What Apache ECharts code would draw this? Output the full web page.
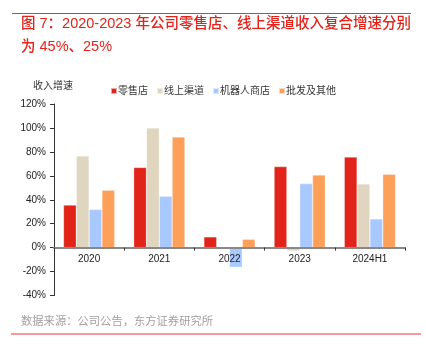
<!DOCTYPE html>
<html><head><meta charset="utf-8">
<script src="https://cdn.jsdelivr.net/npm/echarts@6/dist/echarts.min.js"></script>
<style>html,body{margin:0;padding:0;background:#fff}#c{width:426px;height:346px}</style>
</head><body><div id="c"></div>
<script>
const categories = ['2020', '2021', '2022', '2023', '2024H1'];
const seriesNames = ['零售店', '线上渠道', '机器人商店', '批发及其他'];
const retail = [35.6, 67, 9, 67.7, 75.7];
const online = [76.6, 100, 0, -2.8, 53.2];
const robot = [32, 43, -16.4, 53.5, 24];
const wholesale = [48, 92.5, 7, 60.7, 61.3];
const yTicks = [-40, -20, 0, 20, 40, 60, 80, 100, 120];
const colors = ['#e2231a', '#e0d6bf', '#a8c9ff', '#ffa05a'];
const allData = [retail, online, robot, wholesale];
const font = '"Liberation Sans", "Noto Sans CJK SC", sans-serif';

const gridTop = 104, gridBottom = 50.5, H = 346;
const plotH = H - gridTop - gridBottom;
const zeroOffset = -plotH * (0 - yTicks[0]) / (yTicks[yTicks.length - 1] - yTicks[0]);

const chart = echarts.init(document.getElementById('c'), null, {renderer: 'canvas'});
chart.setOption({
  animation: false,
  textStyle: {fontFamily: font},
  grid: {left: 54, right: 21, top: gridTop, bottom: gridBottom, containLabel: false},
  legend: {
    data: seriesNames, top: 81, left: 105, itemWidth: 6, itemHeight: 6, itemGap: 8,
    icon: 'rect', textStyle: {fontSize: 10, color: '#333', fontFamily: font, padding: [0, 0, 0, -4]}
  },
  xAxis: {
    type: 'category', data: categories, offset: zeroOffset, z: 5,
    axisLine: {onZero: false, lineStyle: {color: '#888', width: 2}},
    axisTick: {show: true, length: 3, lineStyle: {color: '#333'}},
    axisLabel: {fontSize: 10, color: '#222', margin: 7}
  },
  yAxis: {
    type: 'value', min: yTicks[0], max: yTicks[yTicks.length - 1], interval: 20,
    axisLine: {show: true, lineStyle: {color: '#333'}},
    axisTick: {show: true, length: 4, lineStyle: {color: '#333'}},
    splitLine: {show: false},
    axisLabel: {fontSize: 10, color: '#222', margin: 8, formatter: v => v + '%'}
  },
  series: seriesNames.map((n, i) => ({
    name: n, type: 'bar', data: allData[i], barGap: '0%', barCategoryGap: '27%',
    itemStyle: {color: colors[i], borderColor: 'rgba(255,255,255,0.6)', borderWidth: 0.5}
  })),
  graphic: [
    {type: 'line', shape: {x1: 12, y1: 13.5, x2: 411, y2: 13.5}, style: {stroke: '#e8353a', lineWidth: 1}},
    {type: 'text', left: 21, top: 17, style: {text: '图 7：2020-2023 年公司零售店、线上渠道收入复合增速分别', fill: '#e2231a', font: '500 14.5px ' + font}},
    {type: 'text', left: 21, top: 40, style: {text: '为 45%、25%', fill: '#e2231a', font: '500 14.5px ' + font}},
    {type: 'text', left: 33, top: 81, style: {text: '收入增速', fill: '#333', font: '10px ' + font}},
    {type: 'text', left: 21, top: 316, style: {text: '数据来源：公司公告，东方证券研究所', fill: '#a0a0a0', font: '11.3px ' + font}},
    {type: 'line', shape: {x1: 11, y1: 334, x2: 421, y2: 334}, style: {stroke: '#e8353a', lineWidth: 1}}
  ]
});
</script></body></html>
